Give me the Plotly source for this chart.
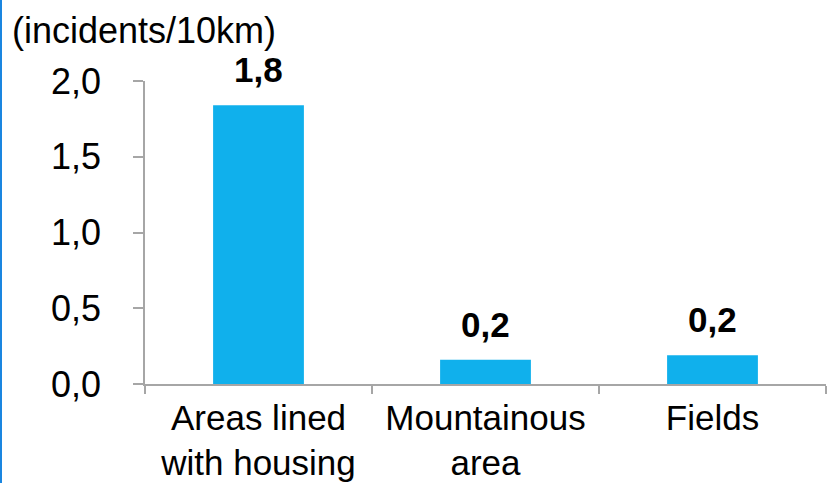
import plotly.graph_objects as go

# Incident rate by terrain type
categories = ["Areas lined<br>with housing", "Mountainous<br>area", "Fields"]
incidents_per_10km = [1.84, 0.16, 0.19]
y_ticks = [0.0, 0.5, 1.0, 1.5, 2.0]

W, H = 827, 483
ML, MR, MT, MB = 145, 1, 81, 99
FONT = "Liberation Sans, Arial, sans-serif"
BAR_COLOR = "#10B0EC"
AXIS_COLOR = "#A6A6A6"

fig = go.Figure(
    go.Bar(
        x=categories,
        y=incidents_per_10km,
        marker=dict(color=BAR_COLOR, line=dict(width=0)),
        showlegend=False,
    )
)

# Value labels above each bar, formatted with one decimal place
for cat, val in zip(categories, incidents_per_10km):
    fig.add_annotation(
        x=cat, y=val, xref="x", yref="y",
        text=f"<b>{val:.1f}</b>".replace(".", ","),
        showarrow=False, yanchor="bottom", yshift=14,
        font=dict(family=FONT, size=35, color="#000000"),
    )

# Thin blue rule along the left edge of the page
pw = W - ML - MR
ph = H - MT - MB
fig.add_shape(
    type="line", xref="paper", yref="paper",
    x0=(1 - ML) / pw, x1=(1 - ML) / pw,
    y0=-MB / ph, y1=1 + MT / ph,
    line=dict(color="#1A86E0", width=2),
)

fig.update_layout(
    width=W, height=H,
    margin=dict(l=ML, r=MR, t=MT, b=MB, pad=0),
    paper_bgcolor="white", plot_bgcolor="white",
    separators=", ",
    bargap=0.6,
    font=dict(family=FONT, size=36, color="#000000"),
    title=dict(
        text="(incidents/10km)",
        xref="container", yref="container",
        x=12 / W, xanchor="left",
        y=1 - 30 / H, yanchor="middle",
        font=dict(family=FONT, size=36, color="#000000"),
    ),
    xaxis=dict(
        type="category",
        showline=True, linecolor=AXIS_COLOR, linewidth=1.5,
        ticks="outside", tickson="boundaries", ticklen=8,
        tickcolor=AXIS_COLOR, tickwidth=1.5,
        showgrid=False, zeroline=False,
        tickfont=dict(family=FONT, size=35, color="#000000"),
        ticklabelstandoff=2,
    ),
    yaxis=dict(
        range=[0, 2],
        tickvals=y_ticks,
        ticktext=[f"{v:.1f}".replace(".", ",") for v in y_ticks],
        showline=True, linecolor=AXIS_COLOR, linewidth=1.5,
        ticks="outside", ticklen=10,
        tickcolor=AXIS_COLOR, tickwidth=1.5,
        showgrid=False, zeroline=False,
        tickfont=dict(family=FONT, size=36, color="#000000"),
        ticklabelstandoff=25,
    ),
)

fig.write_html("out.html")
